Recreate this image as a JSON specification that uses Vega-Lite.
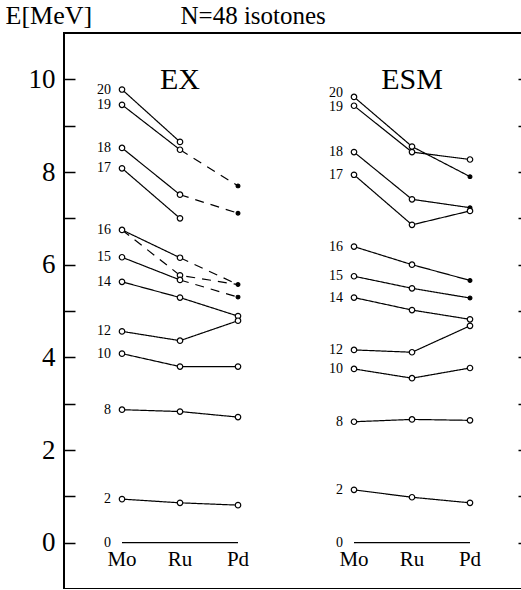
{
  "$schema": "https://vega.github.io/schema/vega-lite/v6.json",
  "width": 464,
  "height": 556,
  "autosize": "none",
  "padding": {"left": 64, "top": 33, "right": 0, "bottom": 0},
  "background": "white",
  "config": {
    "font": "Liberation Serif",
    "view": {"stroke": "black", "strokeWidth": 2},
    "axis": {
      "domain": false,
      "grid": false,
      "tickColor": "black",
      "tickWidth": 1.5,
      "labelColor": "black",
      "labelFont": "Liberation Serif",
      "titleFont": "Liberation Serif",
      "titleColor": "black",
      "titleFontWeight": "normal"
    }
  },
  "datasets": {
    "levels": [
      {"seg": "EX20", "col": "EX Mo", "E": 9.78, "line": "firm"},
      {"seg": "EX20", "col": "EX Ru", "E": 8.65, "line": "firm"},
      {"seg": "EX19", "col": "EX Mo", "E": 9.45, "line": "firm"},
      {"seg": "EX19", "col": "EX Ru", "E": 8.48, "line": "firm"},
      {"seg": "EX19t", "col": "EX Ru", "E": 8.48, "line": "tentative"},
      {"seg": "EX19t", "col": "EX Pd", "E": 7.70, "line": "tentative"},
      {"seg": "EX18", "col": "EX Mo", "E": 8.52, "line": "firm"},
      {"seg": "EX18", "col": "EX Ru", "E": 7.51, "line": "firm"},
      {"seg": "EX18t", "col": "EX Ru", "E": 7.51, "line": "tentative"},
      {"seg": "EX18t", "col": "EX Pd", "E": 7.11, "line": "tentative"},
      {"seg": "EX17", "col": "EX Mo", "E": 8.08, "line": "firm"},
      {"seg": "EX17", "col": "EX Ru", "E": 7.00, "line": "firm"},
      {"seg": "EX16", "col": "EX Mo", "E": 6.75, "line": "firm"},
      {"seg": "EX16", "col": "EX Ru", "E": 6.15, "line": "firm"},
      {"seg": "EX16t", "col": "EX Ru", "E": 6.15, "line": "tentative"},
      {"seg": "EX16t", "col": "EX Pd", "E": 5.57, "line": "tentative"},
      {"seg": "EX16u", "col": "EX Mo", "E": 6.75, "line": "tentative"},
      {"seg": "EX16u", "col": "EX Ru", "E": 5.77, "line": "tentative"},
      {"seg": "EX16u", "col": "EX Pd", "E": 5.57, "line": "tentative"},
      {"seg": "EX15", "col": "EX Mo", "E": 6.16, "line": "firm"},
      {"seg": "EX15", "col": "EX Ru", "E": 5.67, "line": "firm"},
      {"seg": "EX15t", "col": "EX Ru", "E": 5.67, "line": "tentative"},
      {"seg": "EX15t", "col": "EX Pd", "E": 5.30, "line": "tentative"},
      {"seg": "EX14", "col": "EX Mo", "E": 5.63, "line": "firm"},
      {"seg": "EX14", "col": "EX Ru", "E": 5.29, "line": "firm"},
      {"seg": "EX14", "col": "EX Pd", "E": 4.89, "line": "firm"},
      {"seg": "EX12", "col": "EX Mo", "E": 4.56, "line": "firm"},
      {"seg": "EX12", "col": "EX Ru", "E": 4.36, "line": "firm"},
      {"seg": "EX12", "col": "EX Pd", "E": 4.79, "line": "firm"},
      {"seg": "EX10", "col": "EX Mo", "E": 4.08, "line": "firm"},
      {"seg": "EX10", "col": "EX Ru", "E": 3.80, "line": "firm"},
      {"seg": "EX10", "col": "EX Pd", "E": 3.80, "line": "firm"},
      {"seg": "EX8", "col": "EX Mo", "E": 2.87, "line": "firm"},
      {"seg": "EX8", "col": "EX Ru", "E": 2.83, "line": "firm"},
      {"seg": "EX8", "col": "EX Pd", "E": 2.71, "line": "firm"},
      {"seg": "EX2", "col": "EX Mo", "E": 0.94, "line": "firm"},
      {"seg": "EX2", "col": "EX Ru", "E": 0.86, "line": "firm"},
      {"seg": "EX2", "col": "EX Pd", "E": 0.81, "line": "firm"},
      {"seg": "EX0", "col": "EX Mo", "E": 0, "line": "firm"},
      {"seg": "EX0", "col": "EX Ru", "E": 0, "line": "firm"},
      {"seg": "EX0", "col": "EX Pd", "E": 0, "line": "firm"},
      {"seg": "ESM20", "col": "ESM Mo", "E": 9.62, "line": "firm"},
      {"seg": "ESM20", "col": "ESM Ru", "E": 8.55, "line": "firm"},
      {"seg": "ESM20", "col": "ESM Pd", "E": 7.90, "line": "firm"},
      {"seg": "ESM19", "col": "ESM Mo", "E": 9.43, "line": "firm"},
      {"seg": "ESM19", "col": "ESM Ru", "E": 8.43, "line": "firm"},
      {"seg": "ESM19", "col": "ESM Pd", "E": 8.27, "line": "firm"},
      {"seg": "ESM18", "col": "ESM Mo", "E": 8.43, "line": "firm"},
      {"seg": "ESM18", "col": "ESM Ru", "E": 7.41, "line": "firm"},
      {"seg": "ESM18", "col": "ESM Pd", "E": 7.23, "line": "firm"},
      {"seg": "ESM17", "col": "ESM Mo", "E": 7.94, "line": "firm"},
      {"seg": "ESM17", "col": "ESM Ru", "E": 6.86, "line": "firm"},
      {"seg": "ESM17", "col": "ESM Pd", "E": 7.16, "line": "firm"},
      {"seg": "ESM16", "col": "ESM Mo", "E": 6.39, "line": "firm"},
      {"seg": "ESM16", "col": "ESM Ru", "E": 6.00, "line": "firm"},
      {"seg": "ESM16", "col": "ESM Pd", "E": 5.66, "line": "firm"},
      {"seg": "ESM15", "col": "ESM Mo", "E": 5.75, "line": "firm"},
      {"seg": "ESM15", "col": "ESM Ru", "E": 5.49, "line": "firm"},
      {"seg": "ESM15", "col": "ESM Pd", "E": 5.28, "line": "firm"},
      {"seg": "ESM14", "col": "ESM Mo", "E": 5.29, "line": "firm"},
      {"seg": "ESM14", "col": "ESM Ru", "E": 5.02, "line": "firm"},
      {"seg": "ESM14", "col": "ESM Pd", "E": 4.82, "line": "firm"},
      {"seg": "ESM12", "col": "ESM Mo", "E": 4.16, "line": "firm"},
      {"seg": "ESM12", "col": "ESM Ru", "E": 4.11, "line": "firm"},
      {"seg": "ESM12", "col": "ESM Pd", "E": 4.68, "line": "firm"},
      {"seg": "ESM10", "col": "ESM Mo", "E": 3.75, "line": "firm"},
      {"seg": "ESM10", "col": "ESM Ru", "E": 3.55, "line": "firm"},
      {"seg": "ESM10", "col": "ESM Pd", "E": 3.77, "line": "firm"},
      {"seg": "ESM8", "col": "ESM Mo", "E": 2.61, "line": "firm"},
      {"seg": "ESM8", "col": "ESM Ru", "E": 2.66, "line": "firm"},
      {"seg": "ESM8", "col": "ESM Pd", "E": 2.64, "line": "firm"},
      {"seg": "ESM2", "col": "ESM Mo", "E": 1.14, "line": "firm"},
      {"seg": "ESM2", "col": "ESM Ru", "E": 0.98, "line": "firm"},
      {"seg": "ESM2", "col": "ESM Pd", "E": 0.86, "line": "firm"},
      {"seg": "ESM0", "col": "ESM Mo", "E": 0, "line": "firm"},
      {"seg": "ESM0", "col": "ESM Ru", "E": 0, "line": "firm"},
      {"seg": "ESM0", "col": "ESM Pd", "E": 0, "line": "firm"}
    ],
    "states": [
      {"col": "EX Mo", "E": 9.78, "kind": "open"},
      {"col": "EX Mo", "E": 9.45, "kind": "open"},
      {"col": "EX Mo", "E": 8.52, "kind": "open"},
      {"col": "EX Mo", "E": 8.08, "kind": "open"},
      {"col": "EX Mo", "E": 6.75, "kind": "open"},
      {"col": "EX Mo", "E": 6.16, "kind": "open"},
      {"col": "EX Mo", "E": 5.63, "kind": "open"},
      {"col": "EX Mo", "E": 4.56, "kind": "open"},
      {"col": "EX Mo", "E": 4.08, "kind": "open"},
      {"col": "EX Mo", "E": 2.87, "kind": "open"},
      {"col": "EX Mo", "E": 0.94, "kind": "open"},
      {"col": "EX Ru", "E": 8.65, "kind": "open"},
      {"col": "EX Ru", "E": 8.48, "kind": "open"},
      {"col": "EX Ru", "E": 7.51, "kind": "open"},
      {"col": "EX Ru", "E": 7.00, "kind": "open"},
      {"col": "EX Ru", "E": 6.15, "kind": "open"},
      {"col": "EX Ru", "E": 5.77, "kind": "open"},
      {"col": "EX Ru", "E": 5.67, "kind": "open"},
      {"col": "EX Ru", "E": 5.29, "kind": "open"},
      {"col": "EX Ru", "E": 4.36, "kind": "open"},
      {"col": "EX Ru", "E": 3.80, "kind": "open"},
      {"col": "EX Ru", "E": 2.83, "kind": "open"},
      {"col": "EX Ru", "E": 0.86, "kind": "open"},
      {"col": "EX Pd", "E": 7.70, "kind": "filled"},
      {"col": "EX Pd", "E": 7.11, "kind": "filled"},
      {"col": "EX Pd", "E": 5.57, "kind": "filled"},
      {"col": "EX Pd", "E": 5.30, "kind": "filled"},
      {"col": "EX Pd", "E": 4.89, "kind": "open"},
      {"col": "EX Pd", "E": 4.79, "kind": "open"},
      {"col": "EX Pd", "E": 3.80, "kind": "open"},
      {"col": "EX Pd", "E": 2.71, "kind": "open"},
      {"col": "EX Pd", "E": 0.81, "kind": "open"},
      {"col": "ESM Mo", "E": 9.62, "kind": "open"},
      {"col": "ESM Mo", "E": 9.43, "kind": "open"},
      {"col": "ESM Mo", "E": 8.43, "kind": "open"},
      {"col": "ESM Mo", "E": 7.94, "kind": "open"},
      {"col": "ESM Mo", "E": 6.39, "kind": "open"},
      {"col": "ESM Mo", "E": 5.75, "kind": "open"},
      {"col": "ESM Mo", "E": 5.29, "kind": "open"},
      {"col": "ESM Mo", "E": 4.16, "kind": "open"},
      {"col": "ESM Mo", "E": 3.75, "kind": "open"},
      {"col": "ESM Mo", "E": 2.61, "kind": "open"},
      {"col": "ESM Mo", "E": 1.14, "kind": "open"},
      {"col": "ESM Ru", "E": 8.55, "kind": "open"},
      {"col": "ESM Ru", "E": 8.43, "kind": "open"},
      {"col": "ESM Ru", "E": 7.41, "kind": "open"},
      {"col": "ESM Ru", "E": 6.86, "kind": "open"},
      {"col": "ESM Ru", "E": 6.00, "kind": "open"},
      {"col": "ESM Ru", "E": 5.49, "kind": "open"},
      {"col": "ESM Ru", "E": 5.02, "kind": "open"},
      {"col": "ESM Ru", "E": 4.11, "kind": "open"},
      {"col": "ESM Ru", "E": 3.55, "kind": "open"},
      {"col": "ESM Ru", "E": 2.66, "kind": "open"},
      {"col": "ESM Ru", "E": 0.98, "kind": "open"},
      {"col": "ESM Pd", "E": 7.90, "kind": "filled"},
      {"col": "ESM Pd", "E": 8.27, "kind": "open"},
      {"col": "ESM Pd", "E": 7.23, "kind": "filled"},
      {"col": "ESM Pd", "E": 7.16, "kind": "open"},
      {"col": "ESM Pd", "E": 5.66, "kind": "filled"},
      {"col": "ESM Pd", "E": 5.28, "kind": "filled"},
      {"col": "ESM Pd", "E": 4.82, "kind": "open"},
      {"col": "ESM Pd", "E": 4.68, "kind": "open"},
      {"col": "ESM Pd", "E": 3.77, "kind": "open"},
      {"col": "ESM Pd", "E": 2.64, "kind": "open"},
      {"col": "ESM Pd", "E": 0.86, "kind": "open"}
    ],
    "spins": [
      {"col": "EX Mo", "E": 9.78, "J": "20"},
      {"col": "EX Mo", "E": 9.45, "J": "19"},
      {"col": "EX Mo", "E": 8.52, "J": "18"},
      {"col": "EX Mo", "E": 8.08, "J": "17"},
      {"col": "EX Mo", "E": 6.75, "J": "16"},
      {"col": "EX Mo", "E": 6.16, "J": "15"},
      {"col": "EX Mo", "E": 5.63, "J": "14"},
      {"col": "EX Mo", "E": 4.56, "J": "12"},
      {"col": "EX Mo", "E": 4.08, "J": "10"},
      {"col": "EX Mo", "E": 2.87, "J": "8"},
      {"col": "EX Mo", "E": 0.94, "J": "2"},
      {"col": "EX Mo", "E": 0, "J": "0"},
      {"col": "ESM Mo", "E": 9.71, "J": "20"},
      {"col": "ESM Mo", "E": 9.40, "J": "19"},
      {"col": "ESM Mo", "E": 8.43, "J": "18"},
      {"col": "ESM Mo", "E": 7.94, "J": "17"},
      {"col": "ESM Mo", "E": 6.39, "J": "16"},
      {"col": "ESM Mo", "E": 5.75, "J": "15"},
      {"col": "ESM Mo", "E": 5.29, "J": "14"},
      {"col": "ESM Mo", "E": 4.16, "J": "12"},
      {"col": "ESM Mo", "E": 3.75, "J": "10"},
      {"col": "ESM Mo", "E": 2.61, "J": "8"},
      {"col": "ESM Mo", "E": 1.14, "J": "2"},
      {"col": "ESM Mo", "E": 0, "J": "0"}
    ],
    "nuclei": [
      {"col": "EX Mo", "name": "Mo"},
      {"col": "EX Ru", "name": "Ru"},
      {"col": "EX Pd", "name": "Pd"},
      {"col": "ESM Mo", "name": "Mo"},
      {"col": "ESM Ru", "name": "Ru"},
      {"col": "ESM Pd", "name": "Pd"}
    ],
    "panels": [
      {"col": "EX Ru", "name": "EX"},
      {"col": "ESM Ru", "name": "ESM"}
    ]
  },
  "layer": [
    {
      "data": {"name": "levels"},
      "mark": {"type": "line", "color": "black", "strokeWidth": 1.2},
      "encoding": {
        "x": {
          "field": "col", "type": "ordinal", "axis": null,
          "scale": {"type": "point", "padding": 0, "domain": ["start", "EX Mo", "EX Ru", "EX Pd", "gap", "ESM Mo", "ESM Ru", "ESM Pd", "end"]}
        },
        "y": {
          "field": "E", "type": "quantitative",
          "scale": {"domain": [-1, 11], "nice": false, "zero": false},
          "axis": {
            "orient": "left",
            "values": [0, 1, 2, 3, 4, 5, 6, 7, 8, 9, 10],
            "labelExpr": "datum.value % 2 === 0 ? datum.label : ''",
            "tickSize": -11,
            "labelPadding": 20,
            "labelFontSize": 27,
            "title": "E[MeV]",
            "titleAngle": 0,
            "titleAlign": "left",
            "titleBaseline": "alphabetic",
            "titleX": -59,
            "titleY": -10,
            "titleFontSize": 26
          }
        },
        "detail": {"field": "seg"},
        "strokeDash": {
          "field": "line", "type": "nominal", "legend": null,
          "scale": {"domain": ["firm", "tentative"], "range": [[1, 0], [9, 7]]}
        }
      }
    },
    {
      "data": {"name": "states"},
      "mark": {"type": "point", "shape": "circle", "filled": true, "stroke": "black", "strokeWidth": 1.2, "opacity": 1},
      "encoding": {
        "x": {
          "field": "col", "type": "ordinal", "axis": null,
          "scale": {"type": "point", "padding": 0, "domain": ["start", "EX Mo", "EX Ru", "EX Pd", "gap", "ESM Mo", "ESM Ru", "ESM Pd", "end"]}
        },
        "y": {
          "field": "E", "type": "quantitative",
          "scale": {"domain": [-1, 11], "nice": false, "zero": false},
          "axis": {
            "orient": "right",
            "values": [0, 1, 2, 3, 4, 5, 6, 7, 8, 9, 10],
            "labels": false,
            "tickSize": -10,
            "title": "N=48 isotones",
            "titleAngle": 0,
            "titleAlign": "left",
            "titleBaseline": "alphabetic",
            "titleX": -348,
            "titleY": -10,
            "titleFontSize": 25
          }
        },
        "fill": {
          "field": "kind", "type": "nominal", "legend": null,
          "scale": {"domain": ["open", "filled"], "range": ["white", "black"]}
        },
        "size": {
          "field": "kind", "type": "nominal", "legend": null,
          "scale": {"domain": ["open", "filled"], "range": [30, 14]}
        }
      }
    },
    {
      "data": {"name": "spins"},
      "mark": {"type": "text", "align": "right", "baseline": "middle", "dx": -11, "fontSize": 14, "color": "black"},
      "encoding": {
        "x": {
          "field": "col", "type": "ordinal", "axis": null,
          "scale": {"type": "point", "padding": 0, "domain": ["start", "EX Mo", "EX Ru", "EX Pd", "gap", "ESM Mo", "ESM Ru", "ESM Pd", "end"]}
        },
        "y": {"field": "E", "type": "quantitative", "axis": null},
        "text": {"field": "J"}
      }
    },
    {
      "data": {"name": "nuclei"},
      "mark": {"type": "text", "align": "center", "baseline": "alphabetic", "fontSize": 21, "color": "black"},
      "encoding": {
        "x": {
          "field": "col", "type": "ordinal", "axis": null,
          "scale": {"type": "point", "padding": 0, "domain": ["start", "EX Mo", "EX Ru", "EX Pd", "gap", "ESM Mo", "ESM Ru", "ESM Pd", "end"]}
        },
        "y": {"datum": -0.5, "type": "quantitative", "axis": null},
        "text": {"field": "name"}
      }
    },
    {
      "data": {"name": "panels"},
      "mark": {"type": "text", "align": "center", "baseline": "alphabetic", "fontSize": 30, "color": "black"},
      "encoding": {
        "x": {
          "field": "col", "type": "ordinal", "axis": null,
          "scale": {"type": "point", "padding": 0, "domain": ["start", "EX Mo", "EX Ru", "EX Pd", "gap", "ESM Mo", "ESM Ru", "ESM Pd", "end"]}
        },
        "y": {"datum": 9.8, "type": "quantitative", "axis": null},
        "text": {"field": "name"}
      }
    }
  ],
  "resolve": {"axis": {"y": "independent"}}
}
